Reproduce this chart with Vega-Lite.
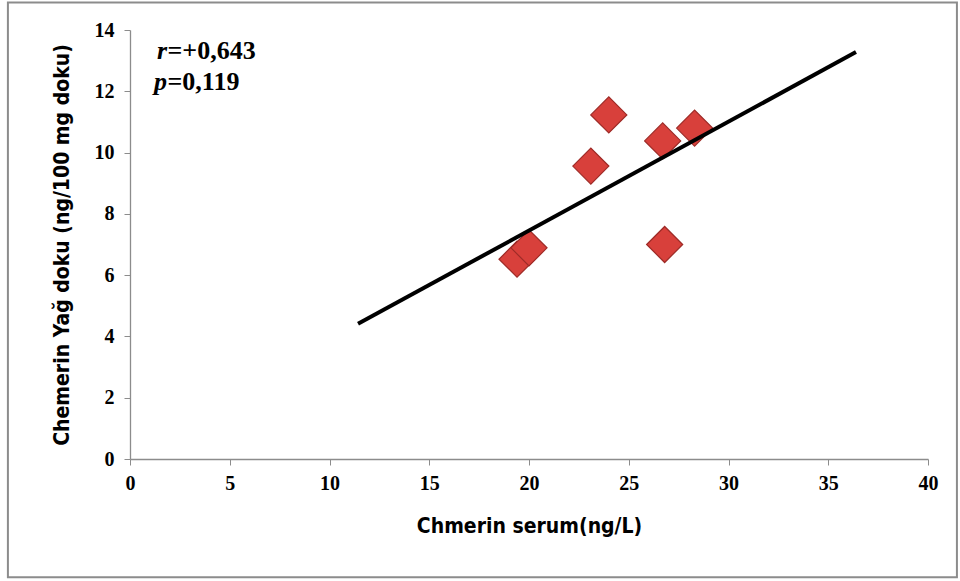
{
  "$schema": "https://vega.github.io/schema/vega-lite/v6.json",
  "autosize": {"type": "none"},
  "width": 798,
  "height": 429,
  "padding": {"left": 130, "top": 30, "right": 32, "bottom": 122},
  "background": "white",
  "config": {"view": {"stroke": null}},
  "datasets": {
    "points": [
      {"serum": 19.4, "doku": 6.52},
      {"serum": 20.0, "doku": 6.89},
      {"serum": 23.1, "doku": 9.56},
      {"serum": 24.0, "doku": 11.23},
      {"serum": 26.7, "doku": 10.38},
      {"serum": 28.3, "doku": 10.8},
      {"serum": 26.8, "doku": 7.0}
    ],
    "fit": [
      {"serum": 11.43, "doku": 4.41},
      {"serum": 36.39, "doku": 13.28}
    ],
    "one": [{}]
  },
  "layer": [
    {
      "data": {"name": "one"},
      "mark": {"type": "rect", "fill": null, "stroke": "#8c8c8c", "strokeWidth": 2, "clip": false},
      "encoding": {
        "x": {"datum": -6.12, "type": "quantitative"},
        "x2": {"datum": 41.45},
        "y": {"datum": 14.9, "type": "quantitative"},
        "y2": {"datum": -3.86}
      }
    },
    {
      "data": {"name": "points"},
      "mark": {"type": "point", "shape": "diamond", "filled": true, "size": 1300, "color": "#d8403b", "stroke": "#9e2b27", "strokeWidth": 1.2, "opacity": 1},
      "encoding": {
        "x": {
          "field": "serum", "type": "quantitative",
          "scale": {"domain": [0, 40], "nice": false, "zero": false},
          "axis": {
            "title": "Chmerin serum(ng/L)",
            "values": [0, 5, 10, 15, 20, 25, 30, 35, 40],
            "grid": false, "labelFlush": false,
            "domainColor": "#8c8c8c", "tickColor": "#8c8c8c", "tickSize": 6, "domainWidth": 1.3,
            "labelFont": "Liberation Serif", "labelFontWeight": "bold", "labelFontSize": 20, "labelColor": "#000", "labelPadding": 8,
            "titleFont": "DejaVu Sans Condensed", "titleFontWeight": "bold", "titleFontSize": 21, "titleColor": "#000", "titlePadding": 22
          }
        },
        "y": {
          "field": "doku", "type": "quantitative",
          "scale": {"domain": [0, 14], "nice": false, "zero": false},
          "axis": {
            "title": "Chemerin Yağ doku (ng/100 mg doku)",
            "values": [0, 2, 4, 6, 8, 10, 12, 14],
            "grid": false, "labelFlush": false,
            "domainColor": "#8c8c8c", "tickColor": "#8c8c8c", "tickSize": 6, "domainWidth": 1.3,
            "labelFont": "Liberation Serif", "labelFontWeight": "bold", "labelFontSize": 20, "labelColor": "#000", "labelPadding": 10,
            "titleFont": "DejaVu Sans Condensed", "titleFontWeight": "bold", "titleFontSize": 21, "titleColor": "#000", "titlePadding": 22
          }
        }
      }
    },
    {
      "data": {"name": "fit"},
      "mark": {"type": "line", "color": "#000", "strokeWidth": 4},
      "encoding": {
        "x": {"field": "serum", "type": "quantitative"},
        "y": {"field": "doku", "type": "quantitative"}
      }
    },
    {
      "data": {"name": "one"},
      "mark": {"type": "text", "text": "r", "font": "Liberation Serif", "fontStyle": "italic", "fontWeight": "bold", "fontSize": 26, "align": "left", "baseline": "middle", "color": "#000"},
      "encoding": {"x": {"datum": 1.35, "type": "quantitative"}, "y": {"datum": 13.3, "type": "quantitative"}}
    },
    {
      "data": {"name": "one"},
      "mark": {"type": "text", "text": "=+0,643", "font": "Liberation Serif", "fontWeight": "bold", "fontSize": 26, "align": "left", "baseline": "middle", "color": "#000"},
      "encoding": {"x": {"datum": 1.88, "type": "quantitative"}, "y": {"datum": 13.3, "type": "quantitative"}}
    },
    {
      "data": {"name": "one"},
      "mark": {"type": "text", "text": "p", "font": "Liberation Serif", "fontStyle": "italic", "fontWeight": "bold", "fontSize": 26, "align": "left", "baseline": "middle", "color": "#000"},
      "encoding": {"x": {"datum": 1.2, "type": "quantitative"}, "y": {"datum": 12.3, "type": "quantitative"}}
    },
    {
      "data": {"name": "one"},
      "mark": {"type": "text", "text": "=0,119", "font": "Liberation Serif", "fontWeight": "bold", "fontSize": 26, "align": "left", "baseline": "middle", "color": "#000"},
      "encoding": {"x": {"datum": 1.88, "type": "quantitative"}, "y": {"datum": 12.3, "type": "quantitative"}}
    }
  ]
}
